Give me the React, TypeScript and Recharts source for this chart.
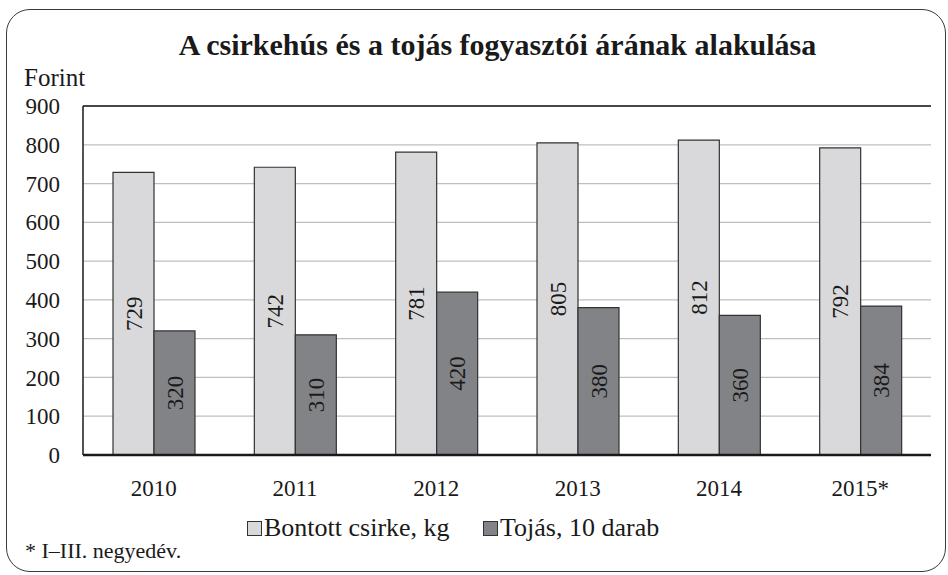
import React from 'react';
import { BarChart, Bar, XAxis, YAxis, CartesianGrid, LabelList, ReferenceLine } from 'recharts';

const years = ['2010', '2011', '2012', '2013', '2014', '2015*'];
const chicken = [729, 742, 781, 805, 812, 792];
const eggs = [320, 310, 420, 380, 360, 384];
const yTicks = [0, 100, 200, 300, 400, 500, 600, 700, 800, 900];

const seriesInfo = [
  { key: 'chicken', name: 'Bontott csirke, kg', fill: '#d9d9db' },
  { key: 'eggs', name: 'Tojás, 10 darab', fill: '#828386' },
];

const FONT = 'Liberation Serif';
const INK = '#1a1a1a';

// legend item left edges
const legendLeft = [247, 483];

export default function App() {
  const data = years.map((year, i) => ({
    year,
    chicken: chicken[i],
    eggs: eggs[i],
  }));

  return (
    <div style={{ position: 'absolute', left: 0, top: 0, width: 948, height: 575, background: '#fff', fontFamily: FONT }}>
      {/* rounded frame */}
      <div
        style={{
          position: 'absolute',
          left: 6,
          top: 9,
          width: 938,
          height: 561,
          border: '1.5px solid #3a3a3a',
          borderRadius: 24,
        }}
      />
      <div
        style={{
          position: 'absolute',
          top: 30,
          left: 0,
          width: 995,
          textAlign: 'center',
          fontSize: 30,
          lineHeight: 1,
          fontWeight: 'bold',
          color: INK,
          whiteSpace: 'nowrap',
        }}
      >
        A csirkehús és a tojás fogyasztói árának alakulása
      </div>
      <div style={{ position: 'absolute', top: 65, left: 24, fontSize: 25, lineHeight: 1, color: INK }}>Forint</div>

      <BarChart
        width={948}
        height={575}
        data={data}
        margin={{ top: 106, right: 17, bottom: 90, left: 0 }}
        barGap={0}
        style={{ position: 'absolute', left: 0, top: 0 }}
      >
        <CartesianGrid vertical={false} stroke="#bfbfbf" strokeWidth={1.3} />
        <XAxis
          dataKey="year"
          height={30}
          axisLine={{ stroke: INK, strokeWidth: 2.5 }}
          tickLine={false}
          tickSize={0}
          tickMargin={25}
          tick={{ fill: INK, fontSize: 23, fontFamily: FONT }}
        />
        <YAxis
          width={83}
          domain={[0, 900]}
          ticks={yTicks}
          interval={0}
          axisLine={{ stroke: INK, strokeWidth: 1.5 }}
          tickLine={false}
          tickSize={0}
          tickMargin={23}
          tick={{ fill: INK, fontSize: 23, fontFamily: FONT }}
        />
        <YAxis
          yAxisId="frame"
          orientation="right"
          width={0}
          domain={[0, 900]}
          tick={false}
          tickLine={false}
          axisLine={{ stroke: INK, strokeWidth: 1.5 }}
        />
        <ReferenceLine y={900} stroke={INK} strokeWidth={1.5} />
        {seriesInfo.map((s) => (
          <Bar
            key={s.key}
            dataKey={s.key}
            name={s.name}
            fill={s.fill}
            stroke="#333"
            strokeWidth={1.2}
            barSize={41}
            isAnimationActive={false}
          >
            <LabelList
              dataKey={s.key}
              position="center"
              angle={-90}
              fill={INK}
              fontSize={23}
              fontFamily={FONT}
            />
          </Bar>
        ))}
      </BarChart>

      {/* legend */}
      {seriesInfo.map((s, i) => (
        <div
          key={s.key}
          style={{
            position: 'absolute',
            top: 515,
            left: legendLeft[i],
            fontSize: 26,
            lineHeight: 1,
            color: INK,
            whiteSpace: 'nowrap',
          }}
        >
          <span
            style={{
              display: 'inline-block',
              width: 13,
              height: 13,
              background: s.fill,
              border: '1px solid #333',
              marginRight: 2,
            }}
          />
          {s.name}
        </div>
      ))}

      <div style={{ position: 'absolute', top: 540, left: 25, fontSize: 22, lineHeight: 1, color: INK }}>* I–III. negyedév.</div>
    </div>
  );
}
